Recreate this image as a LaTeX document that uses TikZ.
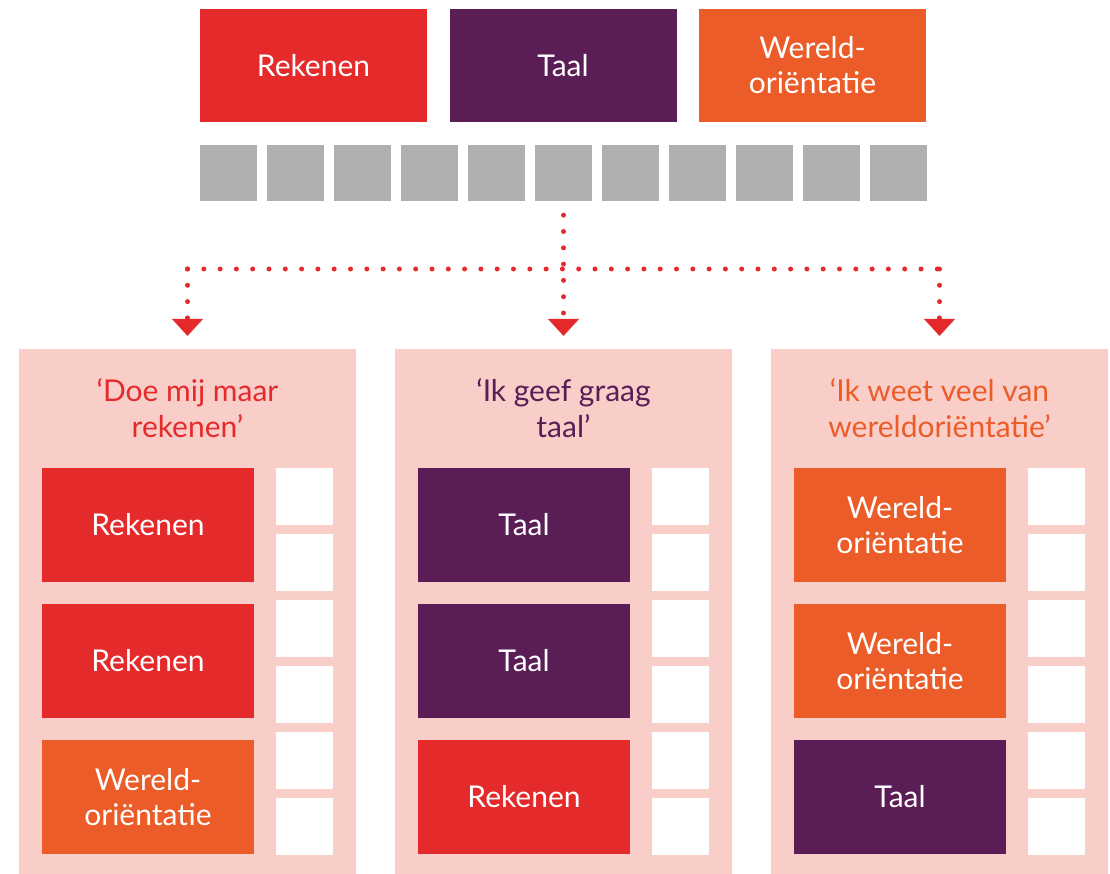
\documentclass[tikz,border=0pt]{standalone}
\usepackage{fontspec}
\setmainfont{Lato}
\usetikzlibrary{arrows.meta}

\definecolor{rekenrood}{HTML}{E52A2B}
\definecolor{taalpaars}{HTML}{5A1D55}
\definecolor{wereldoranje}{HTML}{EB5C28}
\definecolor{blokgrijs}{HTML}{B0AFB0}
\definecolor{paneelroze}{HTML}{F9CDC8}

\tikzset{
  vaktekst/.style={inner sep=0, text=white, align=center, font=\fontsize{30}{35}\selectfont},
  topvak/.style={vaktekst, minimum width=227, minimum height=113},
  vak/.style={vaktekst, minimum width=212, minimum height=114},
  rekenen/.style={fill=rekenrood},
  taal/.style={fill=taalpaars},
  wereld/.style={fill=wereldoranje},
  blok/.style={fill=blokgrijs, inner sep=0, minimum width=57, minimum height=56},
  leeg/.style={fill=white, inner sep=0, minimum width=57, minimum height=57},
  paneel/.style={fill=paneelroze, inner sep=0, minimum width=337, minimum height=525, anchor=north},
  kop/.style={align=center, inner sep=0, anchor=north, font=\fontsize{30}{36}\selectfont},
  stippel/.style={draw=rekenrood, line width=5pt, line cap=round, dash pattern=on 0pt off 16.3pt},
  pijl/.style={-{Triangle[width=30pt,length=17pt]}, shorten >=13pt}
}

\begin{document}
\begin{tikzpicture}[x=1pt,y=-1pt]
\useasboundingbox (0,0) rectangle (1110,874);

\node[topvak,rekenen] (rek) at (313.5,65.5) {Rekenen};
\node[topvak,taal] (taa) at (563,65.5) {Taal};
\node[topvak,wereld] (wer) at (812.5,65.5) {Wereld-\\oriëntatie};

\foreach \i in {1,...,11}
  \node[blok] (sq\i) at ({228.5+67*(\i-1)},173) {};

\node[paneel] (pan1) at (187.5,349) {};
\node[paneel] (pan2) at (563.5,349) {};
\node[paneel] (pan3) at (939.5,349) {};

\node[kop,text=rekenrood] (kop1) at (187.5,378) {‘Doe mij maar\\rekenen’};
\node[kop,text=taalpaars] (kop2) at (563.5,378) {‘Ik geef graag\\taal’};
\node[kop,text=wereldoranje] (kop3) at (939.5,378) {‘Ik weet veel van\\wereldoriëntatie’};

\node[vak,rekenen] (p1a) at (148,525) {Rekenen};
\node[vak,rekenen] (p1b) at (148,661) {Rekenen};
\node[vak,wereld] (p1c) at (148,797) {Wereld-\\oriëntatie};
\node[vak,taal] (p2a) at (524,525) {Taal};
\node[vak,taal] (p2b) at (524,661) {Taal};
\node[vak,rekenen] (p2c) at (524,797) {Rekenen};
\node[vak,wereld] (p3a) at (900,525) {Wereld-\\oriëntatie};
\node[vak,wereld] (p3b) at (900,661) {Wereld-\\oriëntatie};
\node[vak,taal] (p3c) at (900,797) {Taal};

\foreach \p/\x in {1/304.5,2/680.5,3/1056.5}
  \foreach \k in {1,...,6}
    \node[leeg] (leeg\p\k) at (\x,{496.5+66*(\k-1)}) {};

\coordinate (hl) at (187.5,269);
\coordinate (hr) at (939.5,269);
\draw[stippel] (hl) -- (hr);
\draw[stippel,pijl,shorten <=14pt] (sq6.south) -- (pan2.north);
\draw[stippel,pijl] (hl) -- (pan1.north);
\draw[stippel,pijl] (hr) -- (pan3.north);
\end{tikzpicture}
\end{document}
